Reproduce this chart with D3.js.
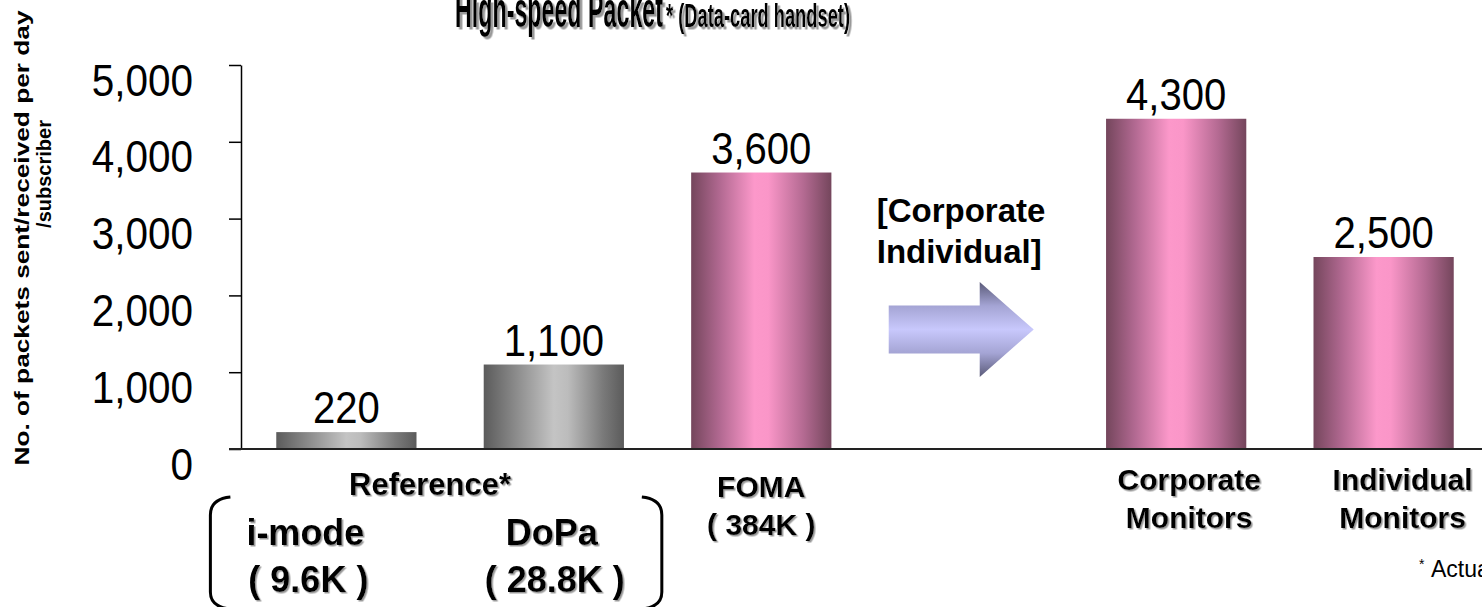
<!DOCTYPE html>
<html>
<head>
<meta charset="utf-8">
<script src="https://cdn.jsdelivr.net/npm/d3@7"></script>
<style>
  body { margin: 0; background: #fff; }
  svg { display: block; font-family: 'Liberation Sans', Arial, sans-serif; }
</style>
</head>
<body>
<svg id="chart" width="1482" height="607"></svg>
<script>
// data
var barKeys = ['i-mode', 'DoPa', 'FOMA', 'arrow', 'Corporate', 'Individual'];
var barValues = [220, 1100, 3600, null, 4300, 2500];
var barGroups = ['reference', 'reference', 'foma', 'none', 'monitor', 'monitor'];
var barLabels = [['i-mode', '( 9.6K )'], ['DoPa', '( 28.8K )'], ['FOMA', '( 384K )'], [], ['Corporate', 'Monitors'], ['Individual', 'Monitors']];
var yTicks = [0, 1000, 2000, 3000, 4000, 5000];
var titleMain = 'High-speed Packet';
var titleSub = '* (Data-card handset)';
var yTitle = ['No. of packets sent/received per day', '/subscriber'];
var arrowText = ['[Corporate', 'Individual]'];

var width = 1482, height = 607;
var plotLeft = 241, plotRight = 1489, plotTop = 65, plotBottom = 449;

var svg = d3.select('#chart');
var defs = svg.append('defs');

function addGradient(id, stops, vertical) {
  var g = defs.append('linearGradient').attr('id', id)
    .attr('x1', 0).attr('y1', 0)
    .attr('x2', vertical ? 0 : 1).attr('y2', vertical ? 1 : 0);
  stops.forEach(function(s) {
    g.append('stop').attr('offset', s[0]).attr('stop-color', s[1]);
  });
}
addGradient('grayBar', [[0, '#5b5b5b'], [0.5, '#c4c4c4'], [0.6, '#bcbcbc'], [0.85, '#7a7a7a'], [1, '#5b5b5b']]);
addGradient('pinkBar', [[0, '#74465c'], [0.2, '#b06890'], [0.45, '#fc98ca'], [0.55, '#fa96c8'], [0.8, '#b46a92'], [1, '#74465c']]);
addGradient('arrowFill', [[0, '#5a5a78'], [0.25, '#a4a4d4'], [0.5, '#c8c8fc'], [0.75, '#a4a4d4'], [1, '#5a5a78']], true);

// drop shadows for the bold labels
function addShadow(id, d) {
  defs.append('filter').attr('id', id)
    .attr('x', '-5%').attr('y', '-20%').attr('width', '115%').attr('height', '150%')
    .append('feDropShadow')
      .attr('dx', d).attr('dy', d).attr('stdDeviation', 0.4)
      .attr('flood-color', '#999').attr('flood-opacity', 1);
}
addShadow('shadowSmall', 1.5);
addShadow('shadowBig', 2.5);

var xScale = d3.scaleBand().domain(barKeys).range([plotLeft, plotRight])
  .paddingInner(0.324).paddingOuter(0.17);
var yScale = d3.scaleLinear().domain([0, 5000]).range([plotBottom, plotTop]);
var bw = xScale.bandwidth();
function cx(key) { return xScale(key) + bw / 2; }

function shadowText(parent, x, y, str, size, opts) {
  opts = opts || {};
  var t = parent.append('text')
    .attr('x', x).attr('y', y)
    .attr('text-anchor', opts.anchor || 'middle')
    .attr('font-size', size)
    .attr('font-weight', 'bold')
    .attr('filter', opts.big ? 'url(#shadowBig)' : 'url(#shadowSmall)')
    .text(str);
  if (opts.length) {
    t.attr('textLength', opts.length).attr('lengthAdjust', 'spacingAndGlyphs');
  }
  return t;
}

// title (its top runs off the picture, as in the source)
shadowText(svg, 455, 27, titleMain, 50, {anchor: 'start', length: 208, big: true});
shadowText(svg, 666, 27, titleSub, 34, {anchor: 'start', length: 184, big: true});

// y axis title
svg.append('text')
  .attr('transform', 'translate(29,238) rotate(-90)')
  .attr('text-anchor', 'middle')
  .attr('font-size', 20).attr('font-weight', 'bold')
  .attr('textLength', 455).attr('lengthAdjust', 'spacingAndGlyphs')
  .text(yTitle[0]);
svg.append('text')
  .attr('transform', 'translate(51,174) rotate(-90)')
  .attr('text-anchor', 'middle')
  .attr('font-size', 20).attr('font-weight', 'bold')
  .text(yTitle[1]);

// axis
var yAxis = d3.axisLeft(yScale).tickValues(yTicks).tickSize(12).tickSizeOuter(0)
  .tickFormat(d3.format(','));
var yAxisGroup = svg.append('g')
  .attr('class', 'axis axis--y')
  .attr('transform', 'translate(' + plotLeft + ',0)')
  .call(yAxis);
yAxisGroup.select('.domain').attr('stroke', '#000').attr('stroke-width', 1.5);
yAxisGroup.selectAll('.tick line').attr('stroke', '#000').attr('stroke-width', 1.5);
yAxisGroup.selectAll('.tick text')
  .attr('x', 0).attr('dy', null)
  .attr('transform', 'translate(-48,30) scale(0.9,1)')
  .attr('text-anchor', 'end')
  .attr('font-family', 'Liberation Sans, Arial, sans-serif')
  .attr('font-size', 45)
  .attr('fill', '#000');

// bars
var bars = barKeys.map(function(k, i) {
  return {key: k, value: barValues[i], group: barGroups[i]};
}).filter(function(d) { return d.value != null; });

svg.selectAll('.bar').data(bars).enter().append('rect')
  .attr('class', 'bar')
  .attr('x', function(d) { return xScale(d.key); })
  .attr('y', function(d) { return yScale(d.value); })
  .attr('width', bw)
  .attr('height', function(d) { return yScale(0) - yScale(d.value); })
  .attr('fill', function(d) {
    return d.group == 'reference' ? 'url(#grayBar)' : 'url(#pinkBar)';
  });

// baseline
svg.append('line')
  .attr('x1', plotLeft - 12).attr('x2', width)
  .attr('y1', yScale(0)).attr('y2', yScale(0))
  .attr('stroke', '#222').attr('stroke-width', 2);

// value labels
svg.selectAll('.value').data(bars).enter().append('text')
  .attr('class', 'value')
  .attr('transform', function(d) {
    return 'translate(' + cx(d.key) + ',' + (yScale(d.value) - 9) + ') scale(0.89,1)';
  })
  .attr('text-anchor', 'middle')
  .attr('font-size', 45)
  .text(function(d) { return d3.format(',')(d.value); });

// category labels
barKeys.forEach(function(k, i) {
  var lines = barLabels[i];
  if (!lines.length) return;
  var g = barGroups[i];
  if (g == 'reference') {
    var shift = i == 0 ? -41 : -2;
    shadowText(svg, cx(k) + shift, 545, lines[0], 36);
    shadowText(svg, cx(k) + shift + 3, 592, lines[1], 36);
  }
  else if (g == 'foma') {
    shadowText(svg, cx(k), 497, lines[0], 30);
    shadowText(svg, cx(k), 535, lines[1], 30);
  }
  else {
    var dx = i == 4 ? 13 : 19;
    shadowText(svg, cx(k) + dx, 490, lines[0], 30);
    shadowText(svg, cx(k) + dx, 528, lines[1], 30);
  }
});
shadowText(svg, (cx(barKeys[0]) + cx(barKeys[1])) / 2 - 20, 495, 'Reference*', 31);

// bracket around the reference bars
var bl = cx(barKeys[0]) - 136, br = cx(barKeys[1]) + 108;
svg.append('path')
  .attr('d', 'M' + (bl + 20) + ',497 Q' + bl + ',499 ' + bl + ',515 L' + bl + ',592 Q' + bl + ',607 ' + (bl + 20) + ',609')
  .attr('fill', 'none').attr('stroke', '#000').attr('stroke-width', 3);
svg.append('path')
  .attr('d', 'M' + (br - 20) + ',497 Q' + br + ',499 ' + br + ',515 L' + br + ',592 Q' + br + ',607 ' + (br - 20) + ',609')
  .attr('fill', 'none').attr('stroke', '#000').attr('stroke-width', 3);

// arrow in the empty slot
var ac = cx('arrow');
var ay = 329.5;
svg.append('path')
  .attr('d', 'M' + (ac - 80) + ',' + (ay - 24) + ' L' + (ac + 11) + ',' + (ay - 24) +
    ' L' + (ac + 11) + ',' + (ay - 47.5) + ' L' + (ac + 65) + ',' + ay +
    ' L' + (ac + 11) + ',' + (ay + 47.5) + ' L' + (ac + 11) + ',' + (ay + 24) +
    ' L' + (ac - 80) + ',' + (ay + 24) + 'Z')
  .attr('fill', 'url(#arrowFill)');
svg.append('text')
  .attr('x', ac - 92).attr('y', 222)
  .attr('font-size', 33).attr('font-weight', 'bold')
  .text(arrowText[0]);
svg.append('text')
  .attr('x', ac - 92).attr('y', 263)
  .attr('font-size', 33).attr('font-weight', 'bold')
  .text(arrowText[1]);

// footnote, runs off the right edge
svg.append('text').attr('x', 1419).attr('y', 569).attr('font-size', 14).text('*');
svg.append('text').attr('x', 1431).attr('y', 577).attr('font-size', 23).text('Actual');
</script>
</body>
</html>
